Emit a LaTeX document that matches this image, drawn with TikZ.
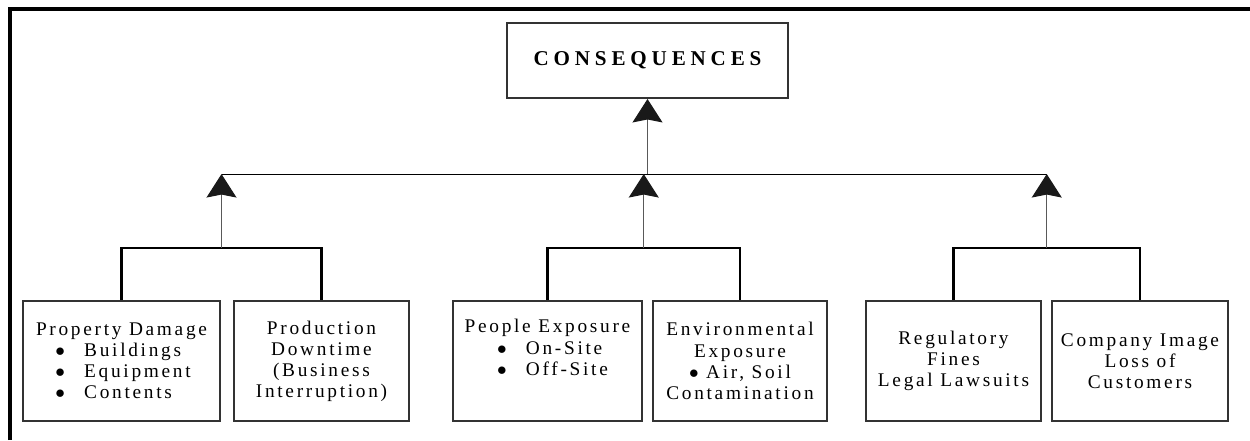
\documentclass[tikz,border=0pt]{standalone}
\usepackage{fontspec}
\setmainfont{Liberation Serif}[LetterSpace=14]
\newfontfamily\headfont{Liberation Serif}[LetterSpace=23]
\usetikzlibrary{
    arrows.meta,
    calc,
    positioning
}
\tikzset{
    effect/.style={draw=black!80, line width=1.1pt, minimum height=2.4cm,
        align=center, inner sep=0pt, font=\fontsize{11}{12}\selectfont},
    bracket/.style={line width=1.4pt},
    uparrow/.style={draw=black!65, line width=0.6pt,
        -{Stealth[length=0.47cm, width=0.6cm, inset=0.06cm, black!90]}}
}
\newcommand{\bitem}[2]{\makebox[#1][l]{$\bullet$\hspace{1em}#2}}

\begin{document}
\begin{tikzpicture}[x=0.02cm, y=0.02cm]
    \useasboundingbox (0,0) rectangle (1250,440);
    % frame
    \draw[line width=2.3pt] (10,0) -- (10,431) -- (1250,431);
    % top box
    \node[draw=black!80, line width=1.1pt, minimum width=5.62cm, minimum height=1.5cm,
        font=\headfont\bfseries\fontsize{12}{12}\selectfont] (cons) at (647.5,379.5) {CONSEQUENCES};
    % lower boxes
    \node[effect, minimum width=3.94cm] (prop) at (121.5,79)
        {Property Damage\\\bitem{2.65cm}{Buildings}\\\bitem{2.65cm}{Equipment}\\\bitem{2.65cm}{Contents}};
    \node[effect, minimum width=3.5cm] (prod) at (321.5,79)
        {Production\\Downtime\\(Business\\Interruption)};
    \node[effect, minimum width=3.78cm] (people) at (547.5,79)
        {People Exposure\\\bitem{2.02cm}{On-Site}\\\bitem{2.02cm}{Off-Site}\\\strut};
    \node[effect, minimum width=3.48cm] (env) at (740,79)
        {Environmental\\Exposure\\$\bullet$ Air, Soil\\Contamination};
    \node[effect, minimum width=3.5cm] (reg) at (953.5,79)
        {Regulatory\\Fines\\Legal Lawsuits};
    \node[effect, minimum width=3.52cm] (image) at (1140,79)
        {Company Image\\Loss of\\Customers};
    % brackets
    \draw[bracket] (prop.north) -- ++(0,52) -| (prod.north);
    \draw[bracket] (people.north) -- ++(0,52) -| (env.north);
    \draw[bracket] (reg.north) -- ++(0,52) -| (image.north);
    \coordinate (j1) at ($(prop.north)!0.5!(prod.north)+(0,52)$);
    \coordinate (j2) at ($(people.north)!0.5!(env.north)+(0,52)$);
    \coordinate (j3) at ($(reg.north)!0.5!(image.north)+(0,52)$);
    % bus
    \coordinate (busL) at ($(j1)+(0,74)$);
    \coordinate (busR) at ($(j3)+(0,74)$);
    \draw[line width=0.6pt] (busL) -- (busR);
    \draw[uparrow] (j1) -- (busL);
    \draw[uparrow] (j2) -- (j2 |- busL);
    \draw[uparrow] (j3) -- (busR);
    \draw[uparrow] (cons.south |- busL) -- (cons.south);
\end{tikzpicture}
\end{document}
